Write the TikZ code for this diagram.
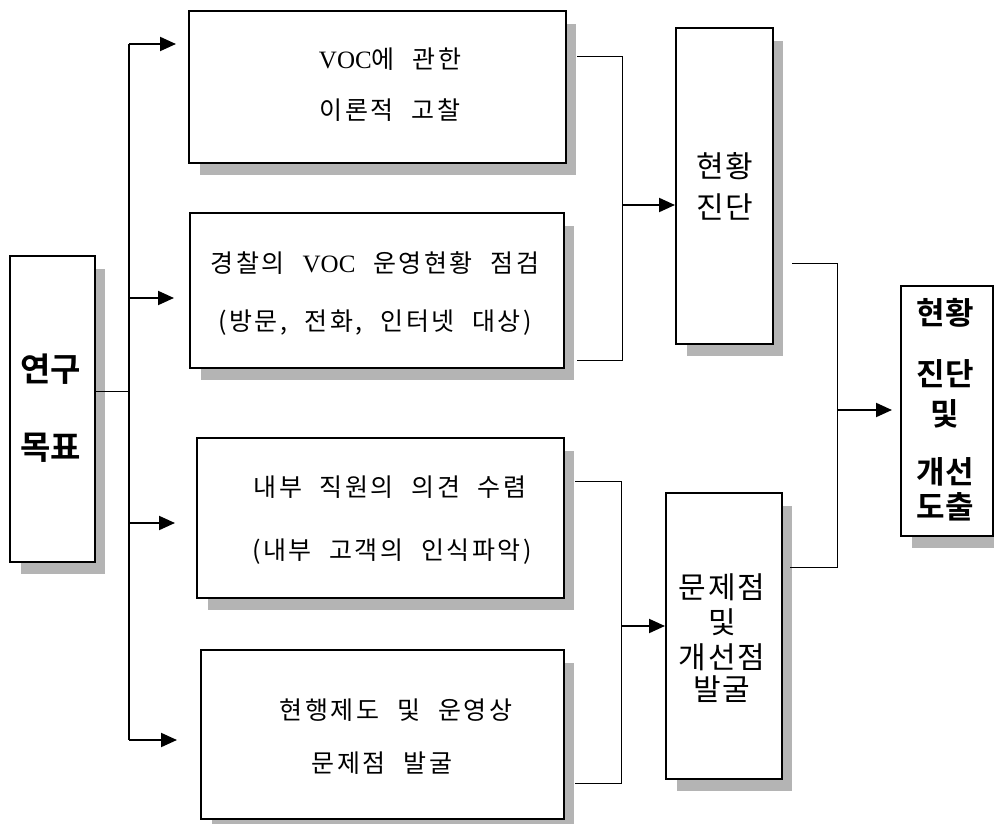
\documentclass[tikz,border=0pt]{standalone}
\usepackage{fontspec}
\setmainfont{Liberation Serif}
\newfontfamily\kr[LetterSpace=10,WordSpace=2.2]{Noto Sans CJK KR}
\newfontfamily\krm[LetterSpace=6]{Noto Sans CJK KR}
\newfontfamily\krb{Noto Sans CJK KR Bold}
\usetikzlibrary{arrows.meta,backgrounds}
\definecolor{shadowgray}{HTML}{B4B4B4}
\begin{document}
\begin{tikzpicture}[x=1pt,y=-1pt,
  box/.style={draw, line width=1.8pt, fill=white, inner sep=0pt, anchor=north west},
  shadowbox/.style={fill=shadowgray},
  conn/.style={line width=1pt},
  busline/.style={line width=1.5pt},
  arr/.style={line width=2pt, -{Triangle[length=16pt,width=14pt]}},
  txt/.style={font=\kr\fontsize{25}{29}\selectfont, inner sep=0pt},
  midtxt/.style={font=\krm\fontsize{30}{34}\selectfont, inner sep=0pt},
  boldtxt/.style={font=\krb\fontsize{31}{35}\selectfont, inner sep=0pt}]
\useasboundingbox (0,0) rectangle (994,824);

% boxes
\node[box, minimum width=85pt,  minimum height=306pt] (L) at (9,255) {};
\node[box, minimum width=377pt, minimum height=152pt] (A) at (188,10) {};
\node[box, minimum width=374pt, minimum height=155pt] (B) at (189,212) {};
\node[box, minimum width=367pt, minimum height=160pt] (C) at (196,437) {};
\node[box, minimum width=363pt, minimum height=169pt] (D) at (200,649) {};
\node[box, minimum width=97pt,  minimum height=316pt] (S) at (675,27) {};
\node[box, minimum width=116pt, minimum height=286pt] (P) at (665,492) {};
\node[box, line width=1.5pt, minimum width=92pt, minimum height=250pt] (F) at (900,285) {};

% shadows
\begin{scope}[on background layer]
  \foreach \b in {L,A,B,C,D,S,P,F}
    \fill[shadowbox] ([shift={(12,14)}]\b.north west) rectangle ([shift={(9,11)}]\b.south east);
\end{scope}

% texts
\node[txt] (a1) at (390,59)  {{\rmfamily VOC}에 관한};
\node[txt] (a2) at (390,110) {이론적 고찰};
\node[txt] (b1) at (375,263) {경찰의 {\rmfamily VOC} 운영현황 점검};
\node[txt] (b2) at (375,323) {(방문, 전화, 인터넷 대상)};
\node[txt] (c1) at (390,487) {내부 직원의 의견 수렴};
\node[txt] (c2) at (392,552) {(내부 고객의 인식파악)};
\node[txt] (d1) at (396,710) {현행제도 및 운영상};
\node[txt] (d2) at (382,763) {문제점 발굴};

\node[boldtxt, font=\krb\fontsize{33}{37}\selectfont] (l1) at (51,369) {연구};
\node[boldtxt, font=\krb\fontsize{33}{37}\selectfont] (l2) at (51,448) {목표};

\node[midtxt] (s1) at (725,166) {현황};
\node[midtxt] (s2) at (725,207) {진단};

\node[midtxt] (p1) at (722,587) {문제점};
\node[midtxt] (p2) at (722,622) {및};
\node[midtxt] (p3) at (722,657) {개선점};
\node[midtxt] (p4) at (722,689) {발굴};

\node[boldtxt] (f1) at (945,313) {현황};
\node[boldtxt] (f2) at (945,374) {진단};
\node[boldtxt] (f3) at (945,414) {및};
\node[boldtxt] (f4) at (945,472) {개선};
\node[boldtxt] (f5) at (945,507) {도출};

% left bus
\coordinate (bt) at (129,44);
\coordinate (bb) at (129,740);
\coordinate (b2) at (129,298);
\coordinate (b3) at (129,523);
\draw[busline] (bt) -- (bb);
\draw[conn] ([yshift=17pt]L.east) -- ([yshift=17pt]L.east -| bt);
\draw[arr, shorten >=12pt] (bt) -- (bt -| A.west);
\draw[arr, shorten >=15pt] (b2) -- (b2 -| B.west);
\draw[arr, shorten >=21pt] (b3) -- (b3 -| C.west);
\draw[arr, shorten >=23pt] (bb) -- (bb -| D.west);

% upper bracket
\coordinate (u1) at (577,57);
\coordinate (u2) at (622,57);
\coordinate (u3) at (622,360);
\coordinate (u4) at (577,360);
\coordinate (um) at (622,205);
\draw[conn] (u1) -- (u2) -- (u3) -- (u4);
\draw[arr] (um) -- (um -| S.west);

% lower bracket
\coordinate (w1) at (575,481);
\coordinate (w2) at (621,481);
\coordinate (w3) at (621,783);
\coordinate (w4) at (575,783);
\coordinate (wm) at (621,626);
\draw[conn] (w1) -- (w2) -- (w3) -- (w4);
\draw[arr] (wm) -- (wm -| P.west);

% right bracket
\coordinate (r1) at (792,263);
\coordinate (r2) at (837,263);
\coordinate (r3) at (837,567);
\coordinate (r4) at (790,567);
\coordinate (rm) at (837,410);
\draw[conn] (r1) -- (r2) -- (r3) -- (r4);
\draw[arr, shorten >=8pt] (rm) -- (rm -| F.west);
\end{tikzpicture}
\end{document}
